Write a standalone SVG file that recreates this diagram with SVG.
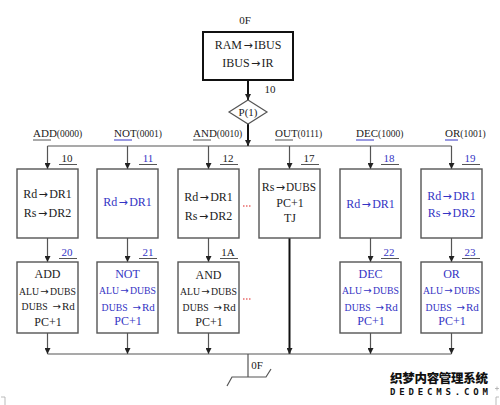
<svg xmlns="http://www.w3.org/2000/svg" width="500" height="405" viewBox="0 0 500 405">
<defs>
<marker id="ah" viewBox="0 0 8 8" refX="8" refY="4" markerWidth="6" markerHeight="6" markerUnits="userSpaceOnUse" orient="auto">
<path d="M0,0 L8,4 L0,8 z" fill="#222"/>
</marker>
<style>
.t{font-family:"Liberation Serif","Noto Sans CJK SC",serif;font-size:12px;fill:#222;text-anchor:middle}
.e{text-anchor:end}
.st{text-anchor:start}
.b{fill:#3434c4}
.s{font-size:11px}
.a{font-family:"DejaVu Sans",sans-serif;font-size:11px}
.a2{font-family:"DejaVu Sans",sans-serif;font-size:10px}
.lab{font-family:"Liberation Serif",serif;font-size:11px;fill:#222}
.box{fill:#fff;stroke:#555;stroke-width:1.4}
.ln{stroke:#555;stroke-width:1.2;fill:none}
.thick{stroke:#111;stroke-width:2;fill:none}
.ul{stroke:#555;stroke-width:1}
.red{stroke:#d22;stroke-width:1.2;stroke-dasharray:1.5,1.5}
</style>
</defs>
<rect width="500" height="405" fill="#fff"/>

<g id="connectors">
<line class="thick" x1="248" y1="80" x2="248" y2="100" marker-end="url(#ah)"/>
<line class="thick" x1="248" y1="124" x2="248" y2="146" marker-end="url(#ah)"/>
<line class="ln" x1="47.5" y1="146" x2="451.5" y2="146"/>
<line class="ln" x1="47.5" y1="146" x2="47.5" y2="169" marker-end="url(#ah)"/>
<line class="ln" x1="127.5" y1="146" x2="127.5" y2="169" marker-end="url(#ah)"/>
<line class="ln" x1="208.5" y1="146" x2="208.5" y2="169" marker-end="url(#ah)"/>
<line class="ln" x1="289.5" y1="146" x2="289.5" y2="169" marker-end="url(#ah)"/>
<line class="ln" x1="370.5" y1="146" x2="370.5" y2="169" marker-end="url(#ah)"/>
<line class="ln" x1="451.5" y1="146" x2="451.5" y2="169" marker-end="url(#ah)"/>
<line class="ln" x1="47.5" y1="238" x2="47.5" y2="262" marker-end="url(#ah)"/>
<line class="ln" x1="127.5" y1="238" x2="127.5" y2="262" marker-end="url(#ah)"/>
<line class="ln" x1="208.5" y1="238" x2="208.5" y2="262" marker-end="url(#ah)"/>
<line class="ln" x1="370.5" y1="238" x2="370.5" y2="262" marker-end="url(#ah)"/>
<line class="ln" x1="451.5" y1="238" x2="451.5" y2="262" marker-end="url(#ah)"/>
<line class="ln" x1="47.5" y1="333" x2="47.5" y2="354" marker-end="url(#ah)"/>
<line class="ln" x1="127.5" y1="333" x2="127.5" y2="354" marker-end="url(#ah)"/>
<line class="ln" x1="208.5" y1="333" x2="208.5" y2="354" marker-end="url(#ah)"/>
<line class="thick" x1="289.5" y1="238" x2="289.5" y2="354" marker-end="url(#ah)"/>
<line class="ln" x1="370.5" y1="333" x2="370.5" y2="354" marker-end="url(#ah)"/>
<line class="ln" x1="451.5" y1="333" x2="451.5" y2="354" marker-end="url(#ah)"/>
<line class="ln" x1="47.5" y1="354" x2="451.5" y2="354"/>
<path class="ln" d="M248,354 V377 M227,386 L232,377 H266 L271,369"/>
<line class="red" x1="243" y1="206" x2="251" y2="206"/>
<line class="red" x1="243" y1="299" x2="251" y2="299"/>
</g>

<text class="t s" x="245" y="24">0F</text>
<text class="t s" x="270" y="93">10</text>
<text class="t s" x="257" y="369">0F</text>

<g id="fetch">
<rect x="203" y="32" width="90" height="48" fill="#fff" stroke="#111" stroke-width="2"/>
<text class="t e" x="242" y="49">RAM</text><text class="t a" x="248" y="49">→</text><text class="t st" x="254" y="49">IBUS</text>
<text class="t e" x="249.6" y="67">IBUS</text><text class="t a" x="255.6" y="67">→</text><text class="t st" x="261.6" y="67">IR</text>
</g>

<g id="decision">
<path d="M248,100 L267,112 L248,124 L229,112 z" fill="#fff" stroke="#555" stroke-width="1.2"/>
<text class="t s" x="248" y="116">P(1)</text>
</g>

<g id="opcodes">
<text class="lab" x="33" y="137">ADD<tspan font-size="9.5">(0000)</tspan></text>
<line class="ul" x1="33" y1="140" x2="51" y2="140"/>
<text class="lab b" x="114" y="137">NOT<tspan font-size="9.5">(0001)</tspan></text>
<line stroke="#3434c4" stroke-width="1" x1="114" y1="140" x2="132" y2="140"/>
<text class="lab" x="193" y="137">AND<tspan font-size="9.5">(0010)</tspan></text>
<line class="ul" x1="193" y1="140" x2="211" y2="140"/>
<text class="lab" x="275" y="137">OUT<tspan font-size="9.5">(0111)</tspan></text>
<line class="ul" x1="275" y1="140" x2="293" y2="140"/>
<text class="lab b" x="356" y="137">DEC<tspan font-size="9.5">(1000)</tspan></text>
<line stroke="#3434c4" stroke-width="1" x1="356" y1="140" x2="374" y2="140"/>
<text class="lab b" x="445" y="137">OR<tspan font-size="9.5">(1001)</tspan></text>
<line stroke="#3434c4" stroke-width="1" x1="445" y1="140" x2="458" y2="140"/>
</g>

<g id="n10">
<text class="t s" x="67" y="162">10</text><line class="ul" x1="59" y1="164.5" x2="77" y2="164.5"/>
<rect class="box" x="17" y="169" width="61" height="69"/>
<text class="t e" x="37.2" y="198">Rd</text><text class="t a" x="43.2" y="198">→</text><text class="t st" x="49.2" y="198">DR1</text>
<text class="t e" x="36.5" y="217">Rs</text><text class="t a" x="42.5" y="217">→</text><text class="t st" x="48.5" y="217">DR2</text>
</g>
<g id="n11">
<text class="t s b" x="148" y="162">11</text><line class="ul" x1="139" y1="164.5" x2="157" y2="164.5"/>
<rect class="box" x="97" y="169" width="61" height="69"/>
<text class="t e b" x="117.2" y="206">Rd</text><text class="t a b" x="123.2" y="206">→</text><text class="t st b" x="129.2" y="206">DR1</text>
</g>
<g id="n12">
<text class="t s" x="228" y="162">12</text><line class="ul" x1="220" y1="164.5" x2="238" y2="164.5"/>
<rect class="box" x="178" y="169" width="61" height="69"/>
<text class="t e" x="198.2" y="201">Rd</text><text class="t a" x="204.2" y="201">→</text><text class="t st" x="210.2" y="201">DR1</text>
<text class="t e" x="197.5" y="220">Rs</text><text class="t a" x="203.5" y="220">→</text><text class="t st" x="209.5" y="220">DR2</text>
</g>
<g id="n17">
<text class="t s" x="309" y="162">17</text><line class="ul" x1="301" y1="164.5" x2="319" y2="164.5"/>
<rect class="box" x="259" y="169" width="61" height="69"/>
<text class="t e" x="274.5" y="191">Rs</text><text class="t a" x="280.3" y="191">→</text><text class="t st" x="286" y="191" textLength="30" lengthAdjust="spacingAndGlyphs">DUBS</text>
<text class="t" x="290" y="207">PC+1</text>
<text class="t" x="290" y="222">TJ</text>
</g>
<g id="n18">
<text class="t s b" x="389" y="162">18</text><line class="ul" x1="381" y1="164.5" x2="399" y2="164.5"/>
<rect class="box" x="340" y="169" width="61" height="69"/>
<text class="t e b" x="360.2" y="208">Rd</text><text class="t a b" x="366.2" y="208">→</text><text class="t st b" x="372.2" y="208">DR1</text>
</g>
<g id="n19">
<text class="t s b" x="470" y="162">19</text><line class="ul" x1="462" y1="164.5" x2="480" y2="164.5"/>
<rect class="box" x="421" y="169" width="61" height="69"/>
<text class="t e b" x="441.2" y="200">Rd</text><text class="t a b" x="447.2" y="200">→</text><text class="t st b" x="453.2" y="200">DR1</text>
<text class="t e b" x="440.5" y="217">Rs</text><text class="t a b" x="446.5" y="217">→</text><text class="t st b" x="452.5" y="217">DR2</text>
</g>

<g id="n20">
<text class="t s b" x="67" y="256">20</text><line class="ul" x1="59" y1="258.5" x2="77" y2="258.5"/>
<rect class="box" x="17" y="262" width="61" height="71"/>
<text class="t" x="47.5" y="278">ADD</text>
<text class="t st s" x="19" y="295" textLength="20" lengthAdjust="spacingAndGlyphs">ALU</text><text class="t a2" x="44.5" y="295">→</text><text class="t st s" x="50" y="295" textLength="26" lengthAdjust="spacingAndGlyphs">DUBS</text>
<text class="t st s" x="21.6" y="310" textLength="26" lengthAdjust="spacingAndGlyphs">DUBS</text><text class="t a2" x="56.6" y="310">→</text><text class="t st s" x="62" y="310">Rd</text>
<text class="t" x="48" y="326">PC+1</text>
</g>
<g id="n21">
<text class="t s b" x="148" y="256">21</text><line class="ul" x1="139" y1="258.5" x2="157" y2="258.5"/>
<rect class="box" x="97" y="262" width="61" height="71"/>
<text class="t b" x="127.5" y="278">NOT</text>
<text class="t st s b" x="99" y="294" textLength="20" lengthAdjust="spacingAndGlyphs">ALU</text><text class="t a2 b" x="124.5" y="294">→</text><text class="t st s b" x="130" y="294" textLength="26" lengthAdjust="spacingAndGlyphs">DUBS</text>
<text class="t st s b" x="101.6" y="311" textLength="26" lengthAdjust="spacingAndGlyphs">DUBS</text><text class="t a2 b" x="136.6" y="311">→</text><text class="t st s b" x="142" y="311">Rd</text>
<text class="t b" x="128" y="325">PC+1</text>
</g>
<g id="n1A">
<text class="t s" x="228" y="256">1A</text><line class="ul" x1="220" y1="258.5" x2="238" y2="258.5"/>
<rect class="box" x="178" y="262" width="61" height="71"/>
<text class="t" x="208.5" y="279">AND</text>
<text class="t st s" x="180" y="295" textLength="20" lengthAdjust="spacingAndGlyphs">ALU</text><text class="t a2" x="205.5" y="295">→</text><text class="t st s" x="211" y="295" textLength="26" lengthAdjust="spacingAndGlyphs">DUBS</text>
<text class="t st s" x="182.6" y="311" textLength="26" lengthAdjust="spacingAndGlyphs">DUBS</text><text class="t a2" x="217.6" y="311">→</text><text class="t st s" x="223" y="311">Rd</text>
<text class="t" x="209" y="326">PC+1</text>
</g>
<g id="n22">
<text class="t s b" x="389" y="256">22</text><line class="ul" x1="381" y1="258.5" x2="399" y2="258.5"/>
<rect class="box" x="340" y="262" width="61" height="71"/>
<text class="t b" x="370.5" y="278">DEC</text>
<text class="t st s b" x="342" y="294" textLength="20" lengthAdjust="spacingAndGlyphs">ALU</text><text class="t a2 b" x="367.5" y="294">→</text><text class="t st s b" x="373" y="294" textLength="26" lengthAdjust="spacingAndGlyphs">DUBS</text>
<text class="t st s b" x="344.6" y="311" textLength="26" lengthAdjust="spacingAndGlyphs">DUBS</text><text class="t a2 b" x="379.6" y="311">→</text><text class="t st s b" x="385" y="311">Rd</text>
<text class="t b" x="371" y="325">PC+1</text>
</g>
<g id="n23">
<text class="t s b" x="470" y="256">23</text><line class="ul" x1="462" y1="258.5" x2="480" y2="258.5"/>
<rect class="box" x="421" y="262" width="61" height="71"/>
<text class="t b" x="451.5" y="278">OR</text>
<text class="t st s b" x="423" y="294" textLength="20" lengthAdjust="spacingAndGlyphs">ALU</text><text class="t a2 b" x="448.5" y="294">→</text><text class="t st s b" x="454" y="294" textLength="26" lengthAdjust="spacingAndGlyphs">DUBS</text>
<text class="t st s b" x="425.6" y="311" textLength="26" lengthAdjust="spacingAndGlyphs">DUBS</text><text class="t a2 b" x="460.6" y="311">→</text><text class="t st s b" x="466" y="311">Rd</text>
<text class="t b" x="452" y="325">PC+1</text>
</g>

<g id="watermark">
<text x="439" y="383" text-anchor="middle" font-family="Noto Sans CJK SC,sans-serif" font-size="12.5" font-weight="900" fill="#111" textLength="98">织梦内容管理系统</text>
<text x="439" y="394.5" text-anchor="middle" font-family="DejaVu Sans Mono,monospace" font-size="9" font-weight="bold" fill="#111" textLength="98">DEDECMS.COM</text>
</g>
<path d="M1,397 H5 V405 M499,397 H496 V405 M495,388.5 H499 M497,386.5 V390.5" stroke="#aaa" stroke-width="0.8" fill="none"/>
</svg>
